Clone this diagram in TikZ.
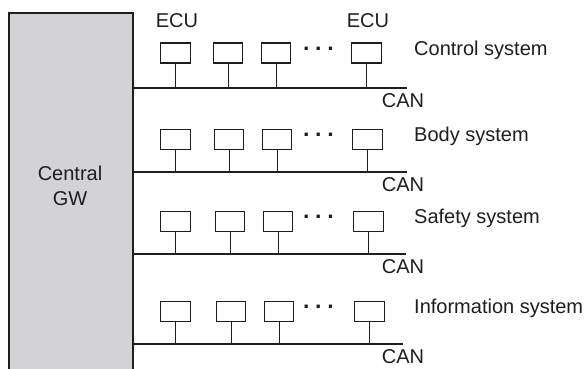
\documentclass[tikz,border=0pt]{standalone}
\usepackage{fontspec}
\setmainfont{Liberation Sans}
\definecolor{gwgray}{HTML}{D3D3D5}
\definecolor{ink}{HTML}{1E1E1E}
\begin{document}
\begin{tikzpicture}[x=1pt,y=-1pt,
  ecu/.style={draw=ink, line width=1.3pt, minimum width=29.5pt, minimum height=20pt, inner sep=0pt},
  bus/.style={draw=ink, line width=2.2pt},
  stem/.style={draw=ink, line width=1pt},
  lbl/.style={font=\fontsize{20}{24}\selectfont, text=ink, inner sep=0pt},
  dots/.style={font=\fontsize{23}{24}\selectfont\bfseries, text=ink, inner sep=0pt}]
\useasboundingbox (0,0) rectangle (587,369);

% central gateway (runs off the bottom edge)
\node[draw=ink, fill=gwgray, line width=2pt, minimum width=124pt, minimum height=370pt,
      inner sep=0pt, anchor=north west] (gw) at (8,12) {};
\node[lbl, align=center, font=\fontsize{20}{25}\selectfont] (gwtext) at (70,186) {Central\\GW};

% ECU captions
\node[lbl] (ecutxt1) at (177,21) {ECU};
\node[lbl] (ecutxt2) at (368,21) {ECU};

% one CAN bus row: #1 row id, #2 box centre y, #3 bus y, #4..#7 box centres x,
% #8 bus end x, #9 system name
\newcommand{\canrow}[9]{%
  \coordinate (busL#1) at (gw.east |- 0,#3);
  \coordinate (busR#1) at (#8,#3);
  \draw[bus] (busL#1) -- (busR#1);
  \foreach \k/\xx in {a/#4,b/#5,c/#6,d/#7}{
    \node[ecu] (e#1\k) at (\xx,#2) {};
    \draw[stem] (e#1\k.south) -- (e#1\k.south |- busR#1);
  }
  \node[dots] (dots#1) at (319,#2-1.5) {·\hspace{4.5pt}·\hspace{4.5pt}·};
  \node[lbl, anchor=west] (sys#1) at (414,#2-3) {#9};
  \node[lbl] (can#1) at (403,#3+13) {CAN};
}

\canrow{1}{53}{88}{175.5}{228}{276}{366.5}{407}{Control system}
\canrow{2}{139.5}{172}{175.5}{229}{277}{367.5}{407}{Body system}
\canrow{3}{221.5}{254}{175.5}{230}{278}{368.5}{406}{Safety system}
\canrow{4}{311.5}{344}{175.5}{231}{279}{369.5}{403}{Information system}
\end{tikzpicture}
\end{document}
